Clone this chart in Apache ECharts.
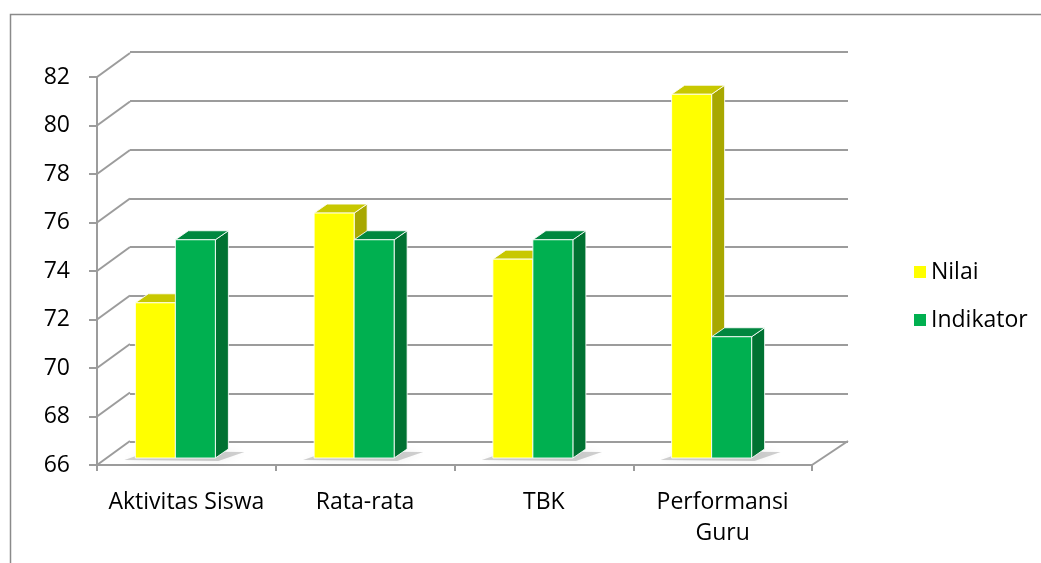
<!DOCTYPE html>
<html>
<head>
<meta charset="utf-8">
<script src="https://cdn.jsdelivr.net/npm/echarts@6/dist/echarts.min.js"></script>
<style>
  html, body { margin: 0; padding: 0; background: #ffffff; }
  #chart { width: 1041px; height: 563px; }
</style>
</head>
<body>
<div id="chart"></div>
<script>
// Data
const categories = ['Aktivitas Siswa', 'Rata-rata', 'TBK', 'Performansi\nGuru'];
const nilai = [72.4, 76.1, 74.2, 81];
const indikator = [75, 75, 75, 71];
const yTickValues = [66, 68, 70, 72, 74, 76, 78, 80, 82];

const Y_MIN = 66, Y_MAX = 82, Y_STEP = 2;
const FONT = '"Open Sans", "Liberation Sans", sans-serif';

// Oblique projection of the 3D box
const WALL_DX = 33, WALL_DY = -24;   // back wall offset
const BAR_LIFT = -7;                 // bars sit a little behind the front floor edge
const BAR_DX = 13, BAR_DY = -9;      // bar depth
const BAR_W = 40;

const GRID_LINE = '#9c9c9c';

function barRenderer(shiftX, front, top, side) {
  return function (params, api) {
    const cat = api.value(0);
    const val = api.value(1);
    const t = api.coord([cat, val]);
    const b = api.coord([cat, Y_MIN]);
    const x0 = t[0] + shiftX, x1 = x0 + BAR_W;
    const yt = t[1] + BAR_LIFT, yb = b[1] + BAR_LIFT;
    const edge = { stroke: 'rgba(255,255,255,0.85)', lineWidth: 1 };
    return {
      type: 'group',
      children: [
        { type: 'polygon',
          shape: { points: [[x1, yt], [x1 + BAR_DX, yt + BAR_DY], [x1 + BAR_DX, yb + BAR_DY], [x1, yb]] },
          style: Object.assign({ fill: side }, edge) },
        { type: 'polygon',
          shape: { points: [[x0, yt], [x0 + BAR_DX, yt + BAR_DY], [x1 + BAR_DX, yt + BAR_DY], [x1, yt]] },
          style: Object.assign({ fill: top }, edge) },
        { type: 'rect',
          shape: { x: x0, y: yt, width: BAR_W, height: yb - yt },
          style: Object.assign({ fill: front }, edge) }
      ]
    };
  };
}

const chart = echarts.init(document.getElementById('chart'), null, { renderer: 'canvas' });

chart.setOption({
  backgroundColor: '#ffffff',
  animation: false,
  graphic: [{
    type: 'rect',
    shape: { x: 10.5, y: 14.5, width: 1100, height: 700 },
    style: { fill: 'none', stroke: '#8a8a8a', lineWidth: 1.5 },
    silent: true, z: -10
  }],
  legend: {
    orient: 'vertical',
    left: 909,
    top: 255,
    itemWidth: 12,
    itemHeight: 12,
    itemGap: 24,
    icon: 'rect',
    textStyle: { fontFamily: FONT, fontSize: 23, color: '#000', lineHeight: 24 },
    data: ['Nilai', 'Indikator']
  },
  grid: [
    { left: 97, top: 77, width: 715, height: 388 },   // front plane
    { left: 130, top: 52, width: 718, height: 390 }   // back wall
  ],
  xAxis: [
    {
      gridIndex: 0, type: 'category', data: categories,
      axisLine: { lineStyle: { color: GRID_LINE, width: 2 } },
      axisTick: { show: true, length: 6, lineStyle: { color: GRID_LINE, width: 2 } },
      axisLabel: { fontFamily: FONT, fontSize: 23, color: '#000', margin: 22, lineHeight: 31, interval: 0 }
    },
    {
      gridIndex: 1, type: 'category', data: categories,
      axisLine: { show: false }, axisTick: { show: false }, axisLabel: { show: false }
    }
  ],
  yAxis: [
    {
      gridIndex: 0, type: 'value', min: Y_MIN, max: Y_MAX, interval: Y_STEP,
      axisLine: { show: true, lineStyle: { color: GRID_LINE, width: 2 } },
      axisTick: { show: true, length: 8, lineStyle: { color: GRID_LINE, width: 2 } },
      splitLine: { show: false },
      axisLabel: { fontFamily: FONT, fontSize: 23, color: '#000', margin: 27 }
    },
    {
      gridIndex: 1, type: 'value', min: Y_MIN, max: Y_MAX, interval: Y_STEP,
      axisLine: { show: false }, axisTick: { show: false }, axisLabel: { show: false },
      splitLine: { show: true, lineStyle: { color: GRID_LINE, width: 2 } }
    }
  ],
  series: [
    {
      // side-wall connectors and the right floor edge
      type: 'custom', name: 'walls', xAxisIndex: 0, yAxisIndex: 0, silent: true,
      data: yTickValues.map(v => [0, v]),
      renderItem(params, api) {
        const v = api.value(1);
        const p = api.coord([0, v]);
        const band = api.size([1, 0])[0];
        const x0 = p[0] - band / 2;
        const style = { stroke: GRID_LINE, lineWidth: 2 };
        const children = [{
          type: 'line',
          shape: { x1: x0, y1: p[1], x2: x0 + WALL_DX, y2: p[1] + WALL_DY },
          style
        }];
        if (v === Y_MIN) {
          const xr = x0 + band * categories.length;
          children.push({
            type: 'line',
            shape: { x1: xr, y1: p[1], x2: xr + WALL_DX + 3, y2: p[1] + WALL_DY },
            style
          });
        }
        return { type: 'group', children };
      }
    },
    {
      // soft floor shadows under each pair of bars
      type: 'custom', name: 'shadow', xAxisIndex: 0, yAxisIndex: 0, silent: true,
      data: categories.map((c, i) => [i, Y_MIN]),
      renderItem(params, api) {
        const p = api.coord([api.value(0), Y_MIN]);
        const c = p[0], y = p[1];
        return {
          type: 'polygon',
          shape: { points: [[c - 62, y - 5], [c + 32, y - 4], [c + 58, y - 13], [c - 36, y - 14]] },
          style: { fill: 'rgba(0,0,0,0.18)', shadowBlur: 10, shadowColor: 'rgba(0,0,0,0.35)' }
        };
      }
    },
    {
      type: 'custom', name: 'Nilai', xAxisIndex: 0, yAxisIndex: 0,
      itemStyle: { color: '#FFFF00' },
      data: nilai.map((v, i) => [i, v]),
      renderItem: barRenderer(-51, '#FFFF00', '#C8C800', '#A8A800')
    },
    {
      type: 'custom', name: 'Indikator', xAxisIndex: 0, yAxisIndex: 0,
      itemStyle: { color: '#00B050' },
      data: indikator.map((v, i) => [i, v]),
      renderItem: barRenderer(-11, '#00B050', '#00873F', '#007232')
    }
  ]
});
</script>
</body>
</html>
